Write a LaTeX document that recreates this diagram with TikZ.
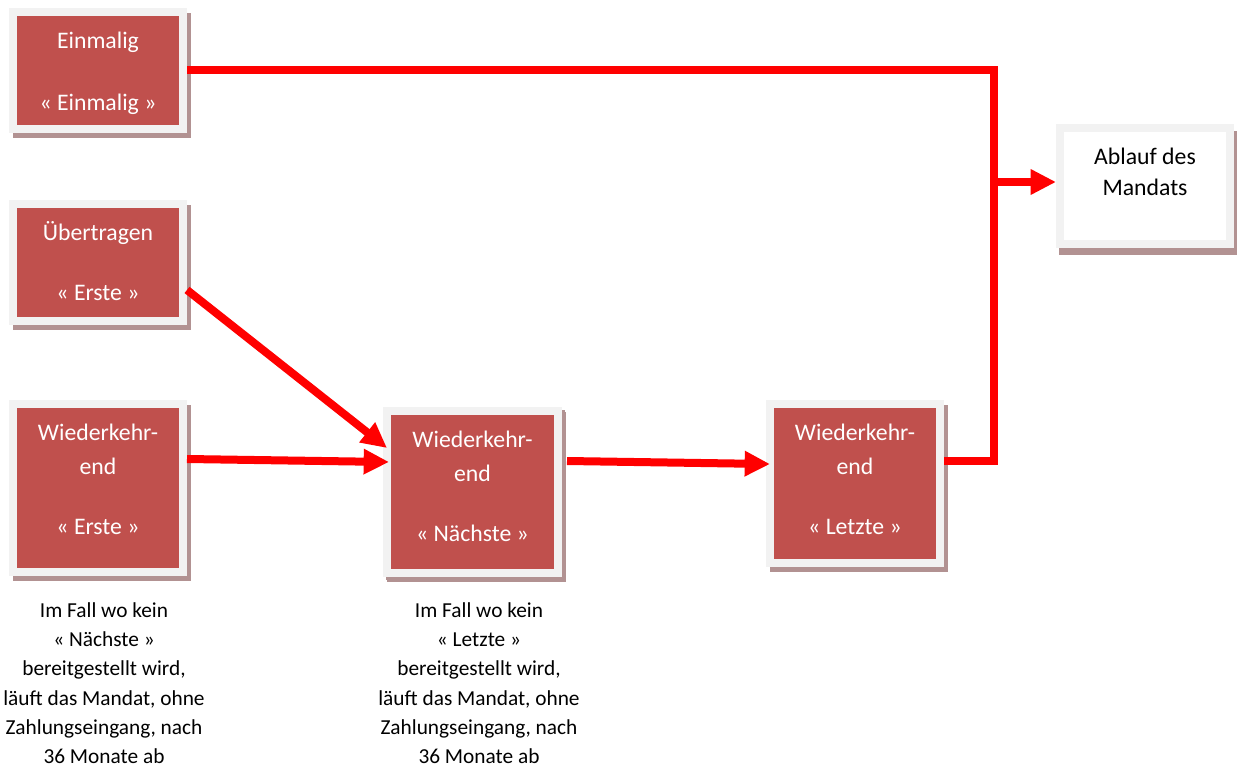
\documentclass[tikz,border=0pt]{standalone}
\usepackage{fontspec}
\setmainfont{Carlito}
\usetikzlibrary{arrows.meta}
\definecolor{boxred}{HTML}{C0504D}
\definecolor{framegray}{HTML}{F2F2F2}
\definecolor{shadowc}{RGB}{178,146,146}
\definecolor{arrred}{HTML}{FF0000}
\newcommand\boxcontent[3]{\parbox[c][#2][t]{#1}{\fontsize{17.8pt}{25.5pt}\selectfont\centering\rule{0pt}{27.4pt}#3\par}}
\tikzset{
  shadowed/.style={preaction={draw=shadowc, fill=shadowc, line width=6pt,
      transform canvas={shift={(#1)}}}},
  shadowed/.default={3pt,-3.75pt},
  redbox/.style={shadowed, fill=boxred, draw=framegray, line width=6pt, inner sep=0pt, text=white},
  whitebox/.style={shadowed={2.5pt,-5pt}, fill=white, draw=framegray, line width=6pt, inner sep=0pt, text=black},
  note/.style={anchor=north, inner sep=0pt, align=center, font=\fontsize{16pt}{22pt}\selectfont},
  conn/.style={draw=arrred, line width=6pt, line join=miter},
  arr/.style={conn, -{Triangle[length=19pt, width=18pt]}}
}
\begin{document}
\begin{tikzpicture}[x=0.75pt, y=-0.75pt]
\useasboundingbox (0,0) rectangle (1240,770);
\node[redbox] (einmal) at (98,70.5) {\boxcontent{127.5pt}{87.75pt}{Einmalig\\[21pt]« Einmalig »}};
\node[redbox] (uebertr) at (98,262.5) {\boxcontent{127.5pt}{87.75pt}{Übertragen\\[19.5pt]« Erste »}};
\node[redbox] (wieder1) at (98,488) {\boxcontent{127.5pt}{126pt}{Wiederkehr-\\end\\[19.5pt]« Erste »}};
\node[redbox, shadowed={2pt,-2.5pt}] (wieder2) at (472.5,492) {\boxcontent{128.25pt}{121.5pt}{Wiederkehr-\\end\\[19.5pt]« Nächste »}};
\node[redbox] (wieder3) at (855,483.5) {\boxcontent{127.5pt}{119.25pt}{Wiederkehr-\\end\\[19.5pt]« Letzte »}};
\node[whitebox] (ablauf) at (1145,186) {\boxcontent{127.5pt}{87pt}{Ablauf des\\[-2.25pt]Mandats}};

\node[note] (n1) at (104,597) {\rule{0pt}{15pt}Im Fall wo kein\\« Nächste »\\bereitgestellt wird,\\läuft das Mandat, ohne\\Zahlungseingang, nach\\36 Monate ab};
\node[note] (n2) at (479,597) {\rule{0pt}{15pt}Im Fall wo kein\\« Letzte »\\bereitgestellt wird,\\läuft das Mandat, ohne\\Zahlungseingang, nach\\36 Monate ab};

\coordinate (j) at (994,182);
\draw[conn] ([yshift=16.9pt]wieder3.east) -| (j) |- (einmal.east);
\draw[arr] (j) -- (j -| ablauf.west);
\draw[arr] ([yshift=-20.6pt]uebertr.east) -- ([shift={(3pt,33pt)}]wieder2.west);
\draw[arr] ([yshift=21.75pt]wieder1.east) -- ([shift={(4.5pt,22.5pt)}]wieder2.west);
\draw[arr] ([shift={(3.75pt,23.25pt)}]wieder2.east) -- ([shift={(3pt,14.6pt)}]wieder3.west);
\end{tikzpicture}
\end{document}
